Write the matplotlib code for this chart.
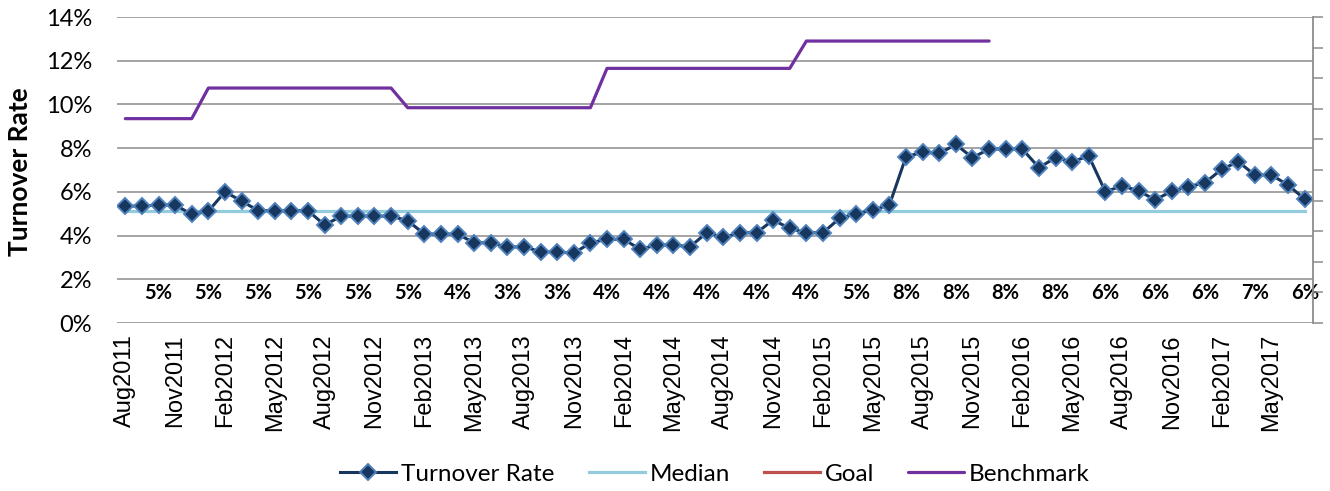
import matplotlib
matplotlib.use("Agg")
import matplotlib.pyplot as plt
import numpy as np

# ---------------- data ----------------
months = ["Aug2011", "Sep2011", "Oct2011", "Nov2011", "Dec2011", "Jan2012", "Feb2012", "Mar2012",
          "Apr2012", "May2012", "Jun2012", "Jul2012", "Aug2012", "Sep2012", "Oct2012", "Nov2012",
          "Dec2012", "Jan2013", "Feb2013", "Mar2013", "Apr2013", "May2013", "Jun2013", "Jul2013",
          "Aug2013", "Sep2013", "Oct2013", "Nov2013", "Dec2013", "Jan2014", "Feb2014", "Mar2014",
          "Apr2014", "May2014", "Jun2014", "Jul2014", "Aug2014", "Sep2014", "Oct2014", "Nov2014",
          "Dec2014", "Jan2015", "Feb2015", "Mar2015", "Apr2015", "May2015", "Jun2015", "Jul2015",
          "Aug2015", "Sep2015", "Oct2015", "Nov2015", "Dec2015", "Jan2016", "Feb2016", "Mar2016",
          "Apr2016", "May2016", "Jun2016", "Jul2016", "Aug2016", "Sep2016", "Oct2016", "Nov2016",
          "Dec2016", "Jan2017", "Feb2017", "Mar2017", "Apr2017", "May2017", "Jun2017", "Jul2017"]

turnover = [5.35, 5.35, 5.40, 5.40, 4.97, 5.12, 6.00, 5.58, 5.14, 5.14, 5.14, 5.14,
            4.48, 4.89, 4.89, 4.89, 4.89, 4.68, 4.07, 4.07, 4.07, 3.67, 3.67, 3.47,
            3.49, 3.26, 3.26, 3.19, 3.67, 3.83, 3.83, 3.37, 3.57, 3.57, 3.49, 4.13,
            3.92, 4.13, 4.13, 4.71, 4.33, 4.13, 4.13, 4.79, 4.99, 5.17, 5.40, 7.61,
            7.81, 7.76, 8.17, 7.56, 7.96, 7.96, 7.96, 7.11, 7.56, 7.38, 7.64, 6.01,
            6.27, 6.05, 5.63, 6.04, 6.24, 6.42, 7.03, 7.38, 6.77, 6.77, 6.31, 5.67]

median = [5.12] * 72

goal = []  # shown in legend only

benchmark = ([9.35] * 5 + [10.75] * 12 + [9.85] * 12 + [11.65] * 12 + [12.9] * 12)

quarter_labels = ["5%", "5%", "5%", "5%", "5%", "5%", "4%", "3%", "3%", "4%", "4%", "4%",
                  "4%", "4%", "5%", "8%", "8%", "8%", "8%", "6%", "6%", "6%", "7%", "6%"]

xtick_labels = ["Aug2011", "Nov2011", "Feb2012", "May2012", "Aug2012", "Nov2012",
                "Feb2013", "May2013", "Aug2013", "Nov2013", "Feb2014", "May2014",
                "Aug2014", "Nov2014", "Feb2015", "May2015", "Aug2015", "Nov2015",
                "Feb2016", "May2016", "Aug2016", "Nov2016", "Feb2017", "May2017"]

# ---------------- figure ----------------
W, H = 1330, 491
fig = plt.figure(figsize=(W / 100, H / 100), dpi=100)
L, R, T, B = 117, 1313, 17, 323
ax = fig.add_axes([L / W, 1 - B / H, (R - L) / W, (B - T) / H])

x = np.arange(len(months))
grid_c = "#8c8c8c"

for v in range(0, 15, 2):
    ax.axhline(v, color=grid_c, lw=1.1, zorder=0)

med_ln, = ax.plot(np.arange(len(median)), median, color="#93CDDD", lw=2.3, zorder=2,
                  label="Median")
goal_ln, = ax.plot(goal, goal, color="#C0504D", lw=2.3, label="Goal")
bm_ln, = ax.plot(np.arange(len(benchmark)), benchmark, color="#7030A0", lw=2.3, zorder=2,
                 label="Benchmark", solid_capstyle="round")
ln, = ax.plot(x, turnover, color="#17375E", lw=2.2, marker="D", markersize=8,
              markerfacecolor="#17375E", markeredgecolor="#4F81BD", markeredgewidth=1.4,
              zorder=3, label="Turnover Rate")

# quarterly labels
q_idx = x[2::3]
for xi, lab in zip(q_idx, quarter_labels):
    ax.text(xi, 1.35, lab, ha="center", va="center", fontsize=14.5, fontweight="bold",
            family="Lato", color="black")

ax.set_xlim(-0.5, len(months) - 0.5)
ax.set_ylim(0, 14)
ax.set_yticks(range(0, 15, 2))
ax.set_yticklabels([f"{v}%" for v in range(0, 15, 2)], family="Lato", fontsize=17)
ax.tick_params(axis="y", length=0, pad=18)
ax.set_xticks(x[::3])
ax.set_xticklabels(xtick_labels, rotation=90, family="Liberation Sans", fontsize=17,
                   va="top", ha="center")
ax.tick_params(axis="x", length=0, pad=8)
for s in ax.spines.values():
    s.set_visible(False)

fig.text(20 / W, 1 - 172 / H, "Turnover Rate", rotation=90, ha="center", va="center",
         family="Lato", fontweight="bold", fontsize=19)

# secondary axis (no labels)
ax2 = ax.twinx()
ax2.set_ylim(0, 10)
ax2.set_yticks(range(0, 11))
ax2.set_yticklabels([])
ax2.tick_params(axis="y", direction="out", length=7, width=1.1, color=grid_c)
for k, s in ax2.spines.items():
    s.set_visible(k == "right")
ax2.spines["right"].set_color(grid_c)
ax2.spines["right"].set_linewidth(1.3)
ax2.xaxis.set_visible(False)

handles = [ln, med_ln, goal_ln, bm_ln]
leg = fig.legend(handles, [h.get_label() for h in handles], loc="center",
                 bbox_to_anchor=((L + R) / 2 / W, 1 - 474 / H), ncol=4, frameon=False,
                 prop={"family": "Lato", "size": 17.5}, handlelength=2.3, handletextpad=0.2,
                 columnspacing=1.4)

fig.savefig("out.png", dpi=100)
